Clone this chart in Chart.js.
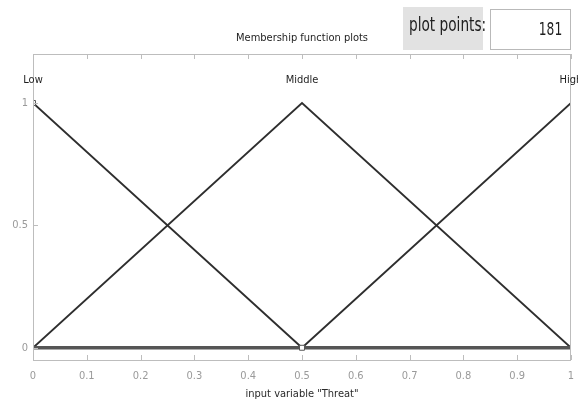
<!DOCTYPE html>
<html>
<head>
<meta charset="utf-8">
<script src="https://cdn.jsdelivr.net/npm/chart.js@4/dist/chart.umd.min.js"></script>
<style>
  html, body { margin: 0; padding: 0; background: #fff; }
  #wrap { position: relative; width: 578px; height: 402px; overflow: hidden; }
  canvas { position: absolute; left: 0; top: 0; }
  .ctl { position: absolute; box-sizing: border-box; white-space: nowrap; font-family: 'Liberation Sans Narrow', 'DejaVu Sans Condensed', 'Arial Narrow', sans-serif; color: #1e1e1e; }
  .ctl span { display: inline-block; transform: scaleX(0.8); }
  #ppLabel { left: 403px; top: 7px; width: 80px; height: 43px; background: #e2e2e2; font-size: 19px; padding: 6px 0 0 6px; }
  #ppLabel span { transform-origin: left center; }
  #ppValue { left: 490px; top: 9px; width: 81px; height: 41px; background: #fff; border: 1px solid #b9b9b9; font-size: 17px; text-align: right; padding: 9px 8px 0 0; }
  #ppValue span { transform-origin: right center; }
</style>
</head>
<body>
<div id="wrap">
  <canvas id="c" width="578" height="402"></canvas>
  <div class="ctl" id="ppLabel"><span>plot points:</span></div>
  <div class="ctl" id="ppValue"><span>181</span></div>
</div>
<script>
// Input variable "Threat": three triangular membership functions on [0, 1]
const xPoints = [0, 0.5, 1];
const lowMF = [1, 0, 0];
const middleMF = [0, 1, 0];
const highMF = [0, 0, 1];
const baseline = [0, 0, 0];
const mfNames = ['Low', 'Middle', 'High'];
const mfPeaks = [0, 0.5, 1];
const yTickValues = [0, 0.5, 1];
const selectedPoints = [{ x: 0, y: 1 }, { x: 0.5, y: 0 }];

const FONT = "'Liberation Sans Narrow', 'DejaVu Sans Condensed', 'Arial Narrow', sans-serif";
const toXY = ys => xPoints.map((x, i) => ({ x, y: ys[i] }));

const lineStyle = { borderColor: '#2e2e2e', borderWidth: 1.8, pointRadius: 0, fill: false, tension: 0 };

// Box frame, inward tick marks, MF names and plot title
const decorations = {
  id: 'decorations',
  afterDatasetsDraw(chart) {
    const { ctx, chartArea: a, scales: { x, y } } = chart;
    ctx.save();
    ctx.strokeStyle = '#bdbdbd';
    ctx.lineWidth = 1;
    ctx.strokeRect(a.left + 0.5, a.top + 0.5, a.right - a.left - 1, a.bottom - a.top);
    ctx.beginPath();
    x.ticks.forEach(t => {
      const px = Math.round(x.getPixelForValue(t.value)) + 0.5;
      ctx.moveTo(px, a.top); ctx.lineTo(px, a.top + 5);
      ctx.moveTo(px, a.bottom); ctx.lineTo(px, a.bottom - 5);
    });
    y.ticks.forEach(t => {
      const py = Math.round(y.getPixelForValue(t.value)) + 0.5;
      ctx.moveTo(a.left, py); ctx.lineTo(a.left + 5, py);
    });
    ctx.stroke();

    ctx.fillStyle = '#1e1e1e';
    ctx.font = '11px ' + FONT;
    ctx.textAlign = 'center';
    ctx.textBaseline = 'middle';
    mfNames.forEach((name, i) => {
      ctx.fillText(name, x.getPixelForValue(mfPeaks[i]), 80);
    });
    ctx.fillText('Membership function plots', 302, 38);
    ctx.restore();
  }
};

new Chart(document.getElementById('c'), {
  type: 'line',
  data: {
    datasets: [
      { label: 'selected', data: selectedPoints, showLine: false, pointStyle: 'rect', pointRadius: 3.5,
        pointBackgroundColor: '#ffffff', pointBorderColor: '#555555', pointBorderWidth: 1, order: 0 },
      { label: 'Low', data: toXY(lowMF), ...lineStyle, order: 2 },
      { label: 'Middle', data: toXY(middleMF), ...lineStyle, order: 2 },
      { label: 'High', data: toXY(highMF), ...lineStyle, order: 2 },
      { label: 'base', data: toXY(baseline), borderColor: '#555555', borderWidth: 3.5, pointRadius: 0, fill: false, order: 1 }
    ]
  },
  options: {
    responsive: false,
    animation: false,
    layout: { padding: { top: 54, right: 7, left: 0, bottom: 0 } },
    plugins: { legend: { display: false }, tooltip: { enabled: false } },
    scales: {
      x: {
        type: 'linear', min: 0, max: 1,
        grid: { display: false, drawTicks: false },
        border: { display: false },
        ticks: { stepSize: 0.1, color: '#9a9a9a', font: { family: FONT, size: 11 }, padding: 10, maxRotation: 0,
                 callback: v => String(Math.round(v * 10) / 10) },
        title: { display: true, text: 'input variable "Threat"', color: '#2a2a2a', font: { family: FONT, size: 11 }, padding: { top: 3, bottom: 1 } },
        afterFit: s => { s.height = 42; s.paddingLeft = 0; s.paddingRight = 0; }
      },
      y: {
        min: -0.05, max: 1.2,
        grid: { display: false, drawTicks: false },
        border: { display: false },
        ticks: { color: '#9a9a9a', font: { family: FONT, size: 11 }, padding: 5, callback: v => String(v) },
        afterBuildTicks: s => { s.ticks = yTickValues.map(v => ({ value: v })); },
        afterFit: s => { s.width = 33; }
      }
    }
  },
  plugins: [decorations]
});
</script>
</body>
</html>
